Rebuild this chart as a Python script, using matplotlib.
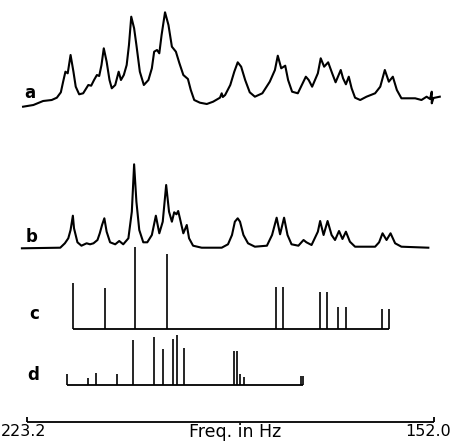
import matplotlib
matplotlib.use("Agg")
import matplotlib.pyplot as plt

# ---------------- data (frequency in Hz, intensity in arbitrary units) ----------------
# a: observed spectrum (traced)
a_freq = [223.8, 222.0, 220.3, 218.8, 217.9, 217.2, 216.8, 216.4, 216.0, 215.5, 215.0, 214.6,
          214.0, 213.3, 212.4, 211.9, 211.4, 210.9, 210.5, 210.1, 209.7, 209.2, 208.7, 208.3,
          207.7, 207.1, 206.7, 206.2, 205.7, 205.3, 204.9, 204.4, 204.0, 203.4, 202.7, 201.9,
          201.3, 200.9, 200.4, 200.0, 199.6, 199.0, 198.4, 197.8, 197.1, 196.5, 195.8, 195.0,
          194.5, 193.9, 192.9, 191.7, 190.6, 189.4, 189.1, 188.9, 188.5, 187.6, 186.9, 186.3,
          185.7, 185.0, 184.2, 183.3, 182.0, 180.7, 179.8, 179.3, 178.7, 178.0, 177.5, 176.8,
          175.8, 175.1, 174.4, 173.9, 173.3, 172.3, 171.8, 171.2, 170.5, 169.8, 169.2, 168.3,
          167.9, 167.4, 166.9, 166.4, 165.8, 164.9, 163.8, 162.3, 161.4, 160.6, 159.9, 159.2,
          158.5, 157.7, 155.3, 154.2, 153.3, 152.7, 152.4, 152.4, 152.1, 151.0]
a_int = [0.3, 2.0, 6.0, 7.0, 9.3, 14.7, 25.3, 35.3, 33.7, 52.0, 35.3, 20.3,
         12.7, 13.7, 22.0, 21.3, 27.0, 32.0, 31.0, 42.0, 58.7, 45.3, 27.0, 18.7,
         22.0, 35.3, 27.0, 32.0, 42.0, 62.0, 90.3, 78.7, 62.0, 35.3, 22.0, 27.0,
         38.7, 55.3, 57.0, 53.7, 72.0, 94.7, 82.0, 60.3, 55.3, 44.0, 32.0, 28.0,
         17.0, 7.0, 4.3, 3.0, 5.3, 9.3, 13.7, 10.0, 12.0, 22.0, 35.3, 44.7,
         40.3, 27.0, 14.7, 10.3, 13.7, 25.3, 37.0, 51.3, 38.7, 41.3, 27.0, 15.3,
         13.7, 22.0, 30.3, 27.0, 20.3, 33.7, 48.7, 40.3, 44.7, 33.7, 24.7, 37.0,
         28.7, 22.7, 30.3, 18.7, 9.3, 7.0, 10.3, 13.7, 20.3, 37.0, 25.3, 30.3,
         17.0, 8.7, 8.7, 7.0, 10.3, 8.0, 15.3, 3.7, 9.0, 10.3]

# b: calculated spectrum (traced)
b_freq = [224.0, 217.3, 216.5, 215.9, 215.5, 215.1, 214.9, 214.3, 213.6, 212.7, 212.1, 211.5,
          210.8, 210.4, 210.0, 209.6, 209.2, 208.6, 207.7, 207.0, 206.3, 205.4, 204.8, 204.4,
          204.0, 203.5, 202.8, 202.1, 201.3, 200.6, 200.0, 199.4, 198.8, 198.3, 197.8, 197.4,
          197.0, 196.7, 196.4, 195.8, 195.2, 194.8, 194.1, 192.6, 189.1, 188.0, 187.3, 186.8,
          186.3, 185.9, 185.3, 184.5, 183.3, 181.2, 180.3, 179.5, 178.9, 178.2, 177.6, 176.9,
          175.7, 174.8, 174.3, 173.4, 172.3, 171.9, 171.3, 170.6, 169.9, 169.3, 168.6, 168.0,
          167.4, 166.7, 165.8, 162.3, 161.6, 161.0, 160.3, 159.6, 158.8, 157.7, 153.0]
b_int = [0.2, 0.8, 5.2, 10.2, 18.5, 32.8, 20.2, 6.2, 2.8, 5.2, 4.2, 5.2,
         8.5, 15.2, 23.5, 30.2, 16.8, 6.2, 4.2, 7.5, 4.2, 10.2, 36.8, 84.2,
         46.8, 18.5, 6.2, 6.2, 13.5, 32.8, 15.2, 26.8, 63.5, 36.8, 26.8, 36.2,
         34.2, 37.5, 30.2, 15.2, 23.5, 10.2, 2.8, 0.8, 0.8, 4.2, 13.5, 26.8,
         30.2, 26.8, 13.5, 5.2, 1.8, 2.8, 13.5, 30.8, 14.2, 30.8, 13.5, 4.2,
         2.8, 8.5, 6.2, 3.5, 16.8, 27.5, 13.5, 27.5, 13.5, 8.5, 17.5, 9.5,
         16.8, 6.8, 1.8, 1.8, 6.2, 15.2, 8.5, 15.2, 5.2, 1.8, 0.8]

# c: stick spectrum
c_freq = [215.1, 209.5, 204.2, 198.7, 179.6, 178.4, 171.9, 170.7, 168.8, 167.4, 161.1, 159.9]
c_int = [46, 41.5, 82, 75.5, 42, 42, 37.5, 37.5, 22.5, 22.5, 20, 20]

# d: stick spectrum
d_freq = [216.1, 212.5, 211.1, 207.4, 204.6, 200.9, 199.4, 197.6, 196.9, 195.7,
          187.0, 186.4, 185.9, 185.2, 175.2, 174.9]
d_int = [11, 7, 12, 11, 45, 48.5, 36.5, 46.5, 50.5, 37.5, 34, 34, 11, 8, 9, 9]

scale_ends = [223.2, 152.0]
scale_labels = ["223.2", "152.0"]
axis_title = "Freq. in Hz"
panel_labels = ["a", "b", "c", "d"]

# ---------------- layout ----------------
W, H = 453, 442
fig = plt.figure(figsize=(W / 100, H / 100), dpi=100)
XLIM = (227.83, 148.69)


def add_ax(top_px, bottom_px, ylim):
    ax = fig.add_axes([0, 1 - bottom_px / H, 1, (bottom_px - top_px) / H])
    ax.set_xlim(*XLIM)
    ax.set_ylim(*ylim)
    ax.axis("off")
    ax.patch.set_alpha(0)
    return ax

ink = "black"

ax_a = add_ax(0, 110, (-3, 107))
ax_a.plot(a_freq, a_int, color=ink, lw=1.5, solid_joinstyle="round")

ax_b = add_ax(150, 252, (-3.5, 98.5))
ax_b.plot(b_freq, b_int, color=ink, lw=1.5, solid_joinstyle="round")

ax_c = add_ax(240, 335, (-6, 89))
ax_c.vlines(c_freq, 0, c_int, color=ink, lw=1.2)
ax_c.hlines(0, max(c_freq), min(c_freq), color=ink, lw=1.3)

ax_d = add_ax(330, 392, (-7, 55))
ax_d.vlines(d_freq, 0, d_int, color=ink, lw=1.2)
ax_d.hlines(0, max(d_freq), min(d_freq), color=ink, lw=1.3)

ax_s = add_ax(395, 442, (-20, 27))
ax_s.hlines(0, scale_ends[0], scale_ends[1], color=ink, lw=1.3)
ax_s.vlines(scale_ends, 0, 5, color=ink, lw=1.3)

# labels
lab_pos = [(30, 93), (32, 237), (34, 314), (33, 375)]
for lab, (x, y) in zip(panel_labels, lab_pos):
    fig.text(x / W, 1 - y / H, lab, ha="center", va="center", fontsize=12,
             fontweight="bold", color=ink)

fig.text(1 / W, 1 - 432 / H, scale_labels[0], ha="left", va="center", fontsize=11.5, color=ink)
fig.text(451 / W, 1 - 432 / H, scale_labels[1], ha="right", va="center", fontsize=11.5, color=ink)
fig.text(235 / W, 1 - 432 / H, axis_title, ha="center", va="center", fontsize=12.5, color=ink)

fig.savefig("out.png", dpi=100)
